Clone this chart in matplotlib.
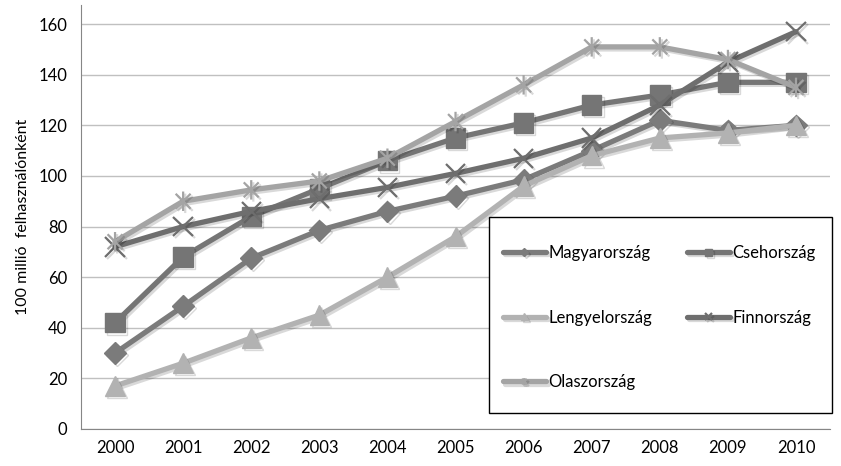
import numpy as np
import matplotlib
matplotlib.use("Agg")
import matplotlib.pyplot as plt
import matplotlib.patheffects as pe
from matplotlib.path import Path
from matplotlib.patches import Rectangle

years = ["2000", "2001", "2002", "2003", "2004", "2005", "2006", "2007", "2008", "2009", "2010"]
countries = ["Magyarország", "Csehország", "Lengyelország", "Finnország", "Olaszország"]

magyar = [30, 48.5, 67.5, 78.5, 86, 92, 98.5, 110, 122, 118, 120]
cseh = [42, 68, 84, 95, 106, 115, 121, 128, 132, 137, 137]
lengyel = [17, 26, 36, 45, 60, 76, 96, 108, 115, 117, 120]
finn = [72, 80, 86, 91, 95.5, 101, 107, 115, 128, 145, 157]
olasz = [74, 90, 94.5, 98, 107, 121.5, 136, 151, 151, 146, 135]

series = [magyar, cseh, lengyel, finn, olasz]

# Excel style asterisk: x plus vertical bar
_star = Path([(-1, -1), (1, 1), (-1, 1), (1, -1), (0, -1.3), (0, 1.3)],
             [Path.MOVETO, Path.LINETO, Path.MOVETO, Path.LINETO, Path.MOVETO, Path.LINETO])

styles = [
	dict(color="#7b7b7b", marker="D", ms=11, mew=1),
	dict(color="#757575", marker="s", ms=14, mew=1),
	dict(color="#b2b2b2", marker="^", ms=14, mew=1),
	dict(color="#6e6e6e", marker="x", ms=14, mew=1.6),
	dict(color="#a4a4a4", marker=_star, ms=14, mew=1.6),
]

plt.rcParams["font.family"] = ["Lato", "DejaVu Sans"]

fig = plt.figure(figsize=(8.41, 4.66), dpi=100)
ax = fig.add_axes([0.0963, 0.0794, 0.8907, 0.9096])

x = np.arange(len(years))
shadow = [pe.SimpleLineShadow(offset=(1.5, -1.5), alpha=0.15, shadow_color="black"), pe.Normal()]
handles = []
for name, vals, st in zip(countries, series, styles):
	h, = ax.plot(x, vals, color=st["color"], lw=3.8, marker=st["marker"], markersize=st["ms"],
		markeredgewidth=st["mew"], markerfacecolor=st["color"], markeredgecolor=st["color"],
		label=name, path_effects=shadow, solid_capstyle="round")
	handles.append(h)

ax.set_xlim(-0.5, len(years) - 0.5)
ax.set_ylim(0, 167.5)
ax.set_yticks(range(0, 161, 20))
ax.set_xticks(x)
ax.set_xticklabels(years)
ax.tick_params(length=0, labelsize=12, colors="black")
ax.tick_params(axis="x", pad=8)
ax.tick_params(axis="y", pad=10)
ax.yaxis.grid(True, color="#c0c0c0", lw=1)
ax.set_axisbelow(True)
for s in ["top", "right"]:
	ax.spines[s].set_visible(False)
for s in ["left", "bottom"]:
	ax.spines[s].set_color("#868686")
ax.set_ylabel("100 millió  felhasználónként", fontsize=11.5, labelpad=6)

# legend box
W, H = 841.0, 466.0
box = Rectangle((489 / W, 1 - 413 / H), (832 - 489) / W, (413 - 217) / H, transform=fig.transFigure,
	facecolor="white", edgecolor="black", lw=1, zorder=5)
fig.patches.append(box)

order = [0, 2, 4, 1, 3]
leg = fig.legend([handles[i] for i in order], [countries[i] for i in order], ncol=2,
	loc="upper left", bbox_to_anchor=(503 / W, 1 - 245 / H),
	fontsize=12, frameon=False, markerscale=0.35, handlelength=2.55, handletextpad=0.15,
	labelspacing=2.92, columnspacing=2.13, borderpad=0, borderaxespad=0)
leg.set_zorder(6)

fig.savefig("out.png", dpi=100)
